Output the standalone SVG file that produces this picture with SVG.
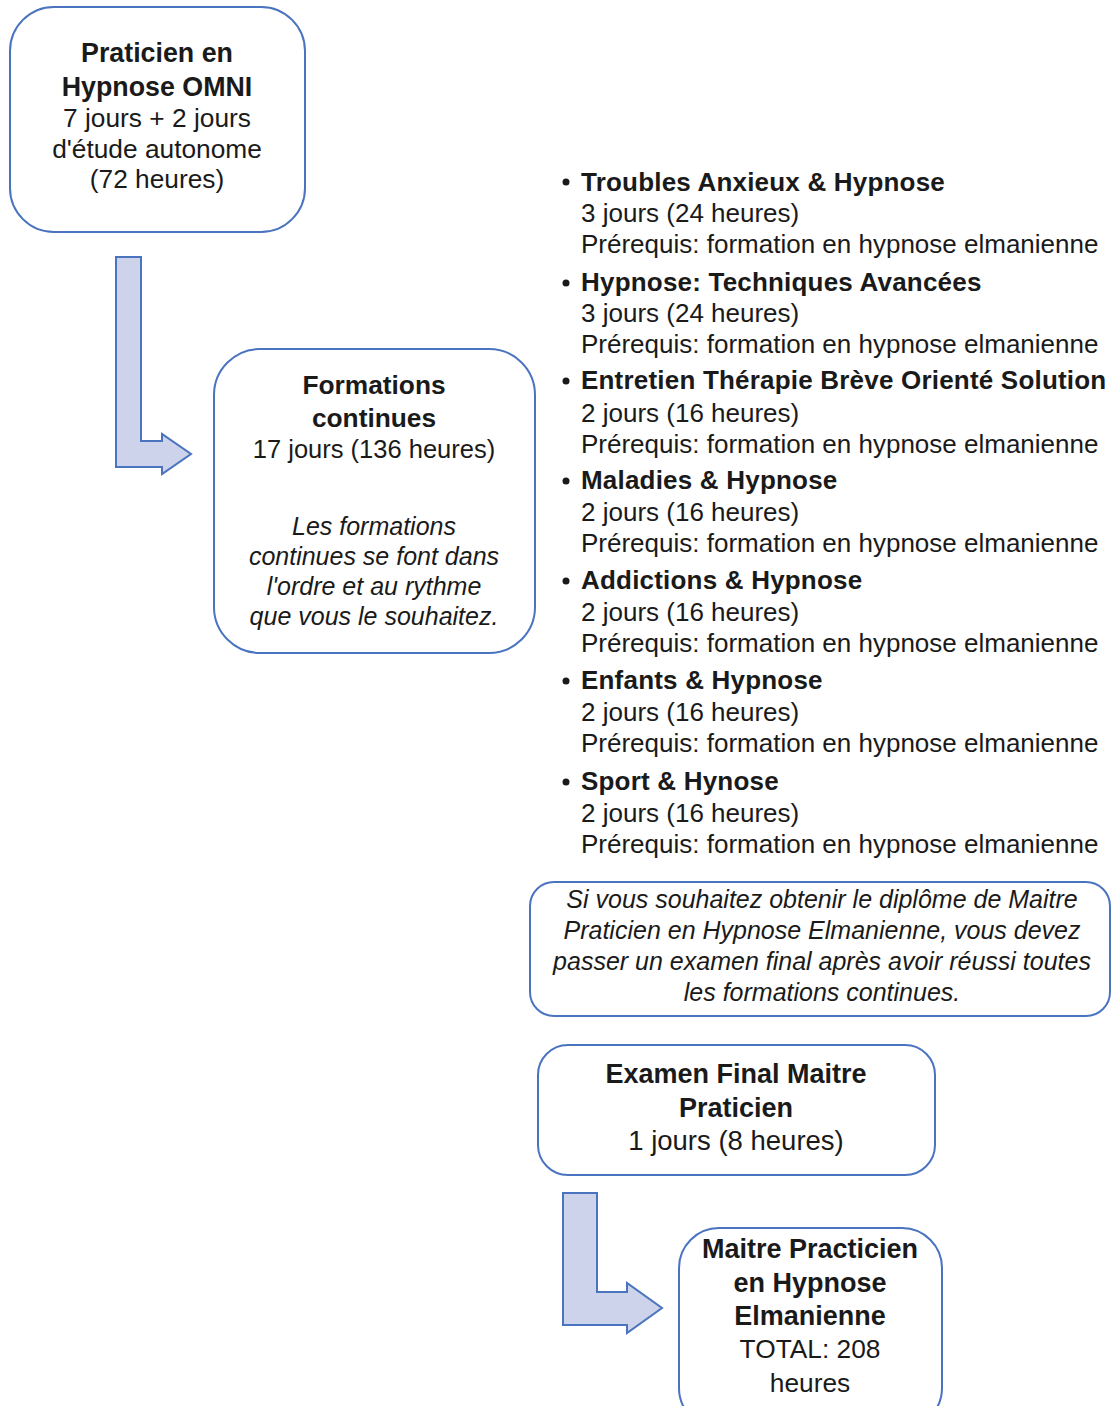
<svg xmlns="http://www.w3.org/2000/svg" width="1112" height="1406" viewBox="0 0 1112 1406">
<style>
.box{fill:#fff;stroke:#4a73c0;stroke-width:2}
.arr{fill:#cdd3ea;stroke:#4a73c0;stroke-width:2;stroke-linejoin:miter}
text{font-family:"Liberation Sans",Arial,sans-serif;fill:#1a1a1a;font-size:25px}
.c{text-anchor:middle}
.b{font-weight:bold}
.i{font-style:italic}
.l{font-size:26px}
.lb{font-size:26px;font-weight:bold;letter-spacing:0.2px}
.n1{font-size:26.3px}
.n1b{font-size:26.8px;font-weight:bold}
.n2{font-size:25.5px}
.n2b{font-size:26.3px;font-weight:bold}
.n3{font-size:27.5px}
.n3b{font-size:27px;font-weight:bold}
</style>
<rect width="1112" height="1406" fill="#fff"/>
<g id="connectors">
<path class="arr" d="M116,257 H141 V441 H162 V434 L191,454 L162,474 V467 H116 Z"/>
<path class="arr" d="M563,1193 H597 V1292 H627 V1283 L662,1308 L627,1333 V1325 H563 Z"/>
</g>
<g id="praticien">
<rect class="box" x="10" y="7" width="295" height="225" rx="44"/>
<text class="c n1b" x="157" y="62">Praticien en</text>
<text class="c n1b" x="157" y="96">Hypnose OMNI</text>
<text class="c n1" x="157" y="127">7 jours + 2 jours</text>
<text class="c n1" x="157" y="158">d'étude autonome</text>
<text class="c n1" x="157" y="188">(72 heures)</text>
</g>
<g id="formations">
<rect class="box" x="214" y="349" width="321" height="304" rx="46"/>
<text class="c n2b" x="374" y="394">Formations</text>
<text class="c n2b" x="374" y="427">continues</text>
<text class="c n2" x="374" y="458">17 jours (136 heures)</text>
<text class="c i" x="374" y="535">Les formations</text>
<text class="c i" x="374" y="565">continues se font dans</text>
<text class="c i" x="374" y="595">l'ordre et au rythme</text>
<text class="c i" x="374" y="625">que vous le souhaitez.</text>
</g>
<g id="liste">
<g fill="#1a1a1a">
<circle cx="566" cy="182" r="3.5"/>
<circle cx="566" cy="283" r="3.5"/>
<circle cx="566" cy="381" r="3.5"/>
<circle cx="566" cy="481" r="3.5"/>
<circle cx="566" cy="581" r="3.5"/>
<circle cx="566" cy="681" r="3.5"/>
<circle cx="566" cy="782" r="3.5"/>
</g>
<text class="lb" x="581" y="191">Troubles Anxieux &amp; Hypnose</text>
<text class="l" x="581" y="222">3 jours (24 heures)</text>
<text class="l" x="581" y="253">Prérequis: formation en hypnose elmanienne</text>
<text class="lb" x="581" y="291">Hypnose: Techniques Avancées</text>
<text class="l" x="581" y="322">3 jours (24 heures)</text>
<text class="l" x="581" y="353">Prérequis: formation en hypnose elmanienne</text>
<text class="lb" x="581" y="389">Entretien Thérapie Brève Orienté Solution</text>
<text class="l" x="581" y="422">2 jours (16 heures)</text>
<text class="l" x="581" y="453">Prérequis: formation en hypnose elmanienne</text>
<text class="lb" x="581" y="489">Maladies &amp; Hypnose</text>
<text class="l" x="581" y="521">2 jours (16 heures)</text>
<text class="l" x="581" y="552">Prérequis: formation en hypnose elmanienne</text>
<text class="lb" x="581" y="589">Addictions &amp; Hypnose</text>
<text class="l" x="581" y="621">2 jours (16 heures)</text>
<text class="l" x="581" y="652">Prérequis: formation en hypnose elmanienne</text>
<text class="lb" x="581" y="689">Enfants &amp; Hypnose</text>
<text class="l" x="581" y="721">2 jours (16 heures)</text>
<text class="l" x="581" y="752">Prérequis: formation en hypnose elmanienne</text>
<text class="lb" x="581" y="790">Sport &amp; Hynose</text>
<text class="l" x="581" y="822">2 jours (16 heures)</text>
<text class="l" x="581" y="853">Prérequis: formation en hypnose elmanienne</text>
</g>
<g id="note">
<rect class="box" x="530" y="882" width="580" height="134" rx="24"/>
<text class="c i" x="822" y="908">Si vous souhaitez obtenir le diplôme de Maitre</text>
<text class="c i" x="822" y="939">Praticien en Hypnose Elmanienne, vous devez</text>
<text class="c i" x="822" y="970">passer un examen final après avoir réussi toutes</text>
<text class="c i" x="822" y="1001">les formations continues.</text>
</g>
<g id="examen">
<rect class="box" x="538" y="1045" width="397" height="130" rx="30"/>
<text class="c n3b" x="736" y="1083">Examen Final Maitre</text>
<text class="c n3b" x="736" y="1117">Praticien</text>
<text class="c n3" x="736" y="1150">1 jours (8 heures)</text>
</g>
<g id="maitre">
<rect class="box" x="679" y="1228" width="263" height="200" rx="40"/>
<text class="c n3b" x="810" y="1258">Maitre Practicien</text>
<text class="c n3b" x="810" y="1292">en Hypnose</text>
<text class="c n3b" x="810" y="1325">Elmanienne</text>
<text class="c n1" x="810" y="1358">TOTAL: 208</text>
<text class="c n1" x="810" y="1392">heures</text>
</g>
</svg>
